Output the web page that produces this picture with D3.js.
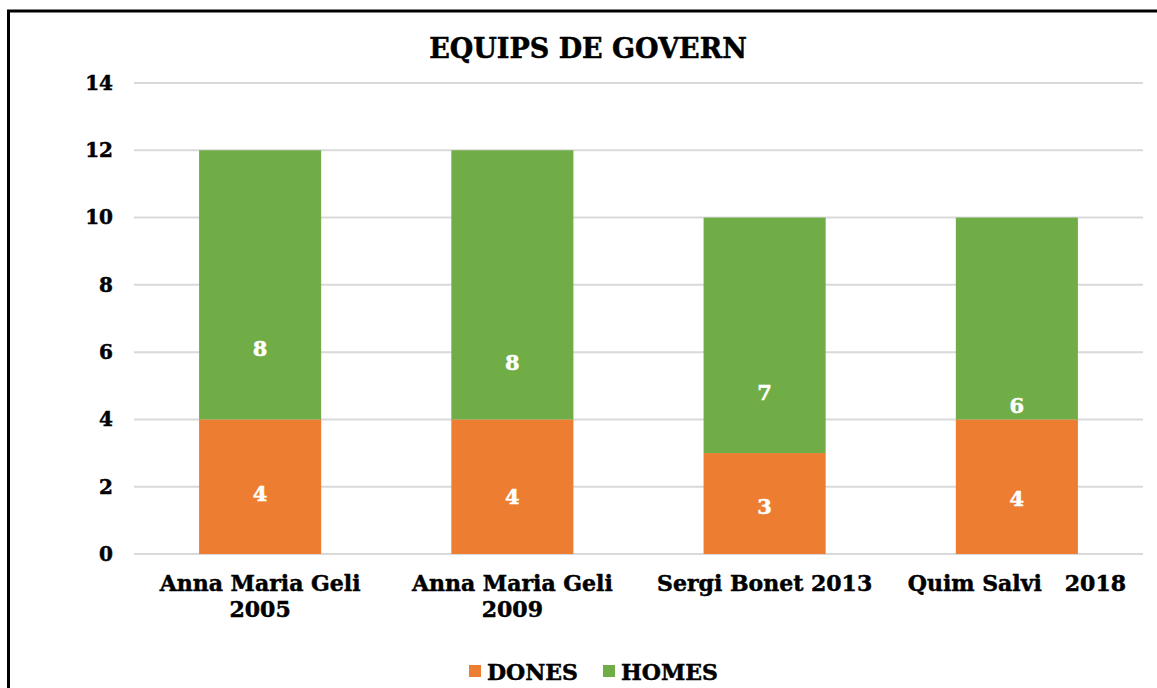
<!DOCTYPE html>
<html>
<head>
<meta charset="utf-8">
<script src="https://cdn.jsdelivr.net/npm/d3@7"></script>
<style>
  html, body { margin: 0; padding: 0; background: #fff; }
  svg { display: block; }
  text { font-family: "DejaVu Serif", serif; font-weight: bold; }
</style>
</head>
<body>
<div id="chart"></div>
<script>
"use strict";

// chart data
var categories = [["Anna Maria Geli", "2005"], ["Anna Maria Geli", "2009"], ["Sergi Bonet 2013"], ["Quim Salvi   2018"]];
var dones = [4, 4, 3, 4];
var homes = [8, 8, 7, 6];
var yTicks = [0, 2, 4, 6, 8, 10, 12, 14];
// where the data labels sit, in axis units (placed by hand in the original)
var donesLabelAt = [1.8, 1.7, 1.4, 1.65];
var homesLabelAt = [6.1, 5.7, 4.8, 4.4];

var width = 1157, height = 688;
var colors = {DONES: "#ed7d31", HOMES: "#70ad47"};

var svg = d3.select("#chart").append("svg")
  .attr("width", width)
  .attr("height", height);

// frame (runs off the right and bottom edge)
svg.append("rect")
  .attr("x", 8.5).attr("y", 11)
  .attr("width", 1170).attr("height", 700)
  .attr("fill", "none")
  .attr("stroke", "#000")
  .attr("stroke-width", 3);

svg.append("text")
  .attr("x", 588).attr("y", 58)
  .attr("text-anchor", "middle")
  .attr("font-size", 27)
  .attr("stroke", "#000").attr("stroke-width", 0.5)
  .text("EQUIPS DE GOVERN");

var x = d3.scaleBand()
  .domain(d3.range(categories.length))
  .range([134, 1143])
  .paddingInner(0.516)
  .paddingOuter(0.258);

var y = d3.scaleLinear().domain([0, 14]).range([554, 83]);

// gridlines
svg.append("g")
  .selectAll("line")
  .data(yTicks)
  .enter().append("line")
  .attr("x1", 134).attr("x2", 1143)
  .attr("y1", d => y(d)).attr("y2", d => y(d))
  .attr("stroke", "#d9d9d9")
  .attr("stroke-width", 2);

// y labels
var yAxis = svg.append("g")
  .attr("transform", "translate(113,0)")
  .call(d3.axisLeft(y).tickValues(yTicks).tickSize(0).tickPadding(0));
yAxis.select(".domain").remove();
yAxis.selectAll("text")
  .attr("font-size", 20)
  .attr("font-family", "DejaVu Serif, serif")
  .attr("font-weight", "bold")
  .attr("stroke", "#000").attr("stroke-width", 0.5)
  .attr("fill", "#000");

var stackData = categories.map((c, i) => ({i: i, DONES: dones[i], HOMES: homes[i]}));
var series = d3.stack().keys(["DONES", "HOMES"])(stackData);

svg.append("g")
  .selectAll("g")
  .data(series)
  .enter().append("g")
  .attr("fill", d => colors[d.key])
  .selectAll("rect")
  .data(d => d)
  .enter().append("rect")
  .attr("x", d => x(d.data.i))
  .attr("width", x.bandwidth())
  .attr("y", d => y(d[1]))
  .attr("height", d => y(d[0]) - y(d[1]));

// data labels
function labels(values, at) {
  svg.append("g")
    .selectAll("text")
    .data(values)
    .enter().append("text")
    .attr("x", (d, i) => x(i) + x.bandwidth() / 2)
    .attr("y", (d, i) => y(at[i]))
    .attr("dy", "0.35em")
    .attr("text-anchor", "middle")
    .attr("font-size", 21)
    .attr("fill", "#fff")
    .attr("stroke", "#fff").attr("stroke-width", 0.5)
    .text(d => d);
}
labels(dones, donesLabelAt);
labels(homes, homesLabelAt);

// category labels
var cat = svg.append("g")
  .selectAll("text")
  .data(categories)
  .enter().append("text")
  .attr("x", (d, i) => x(i) + x.bandwidth() / 2)
  .attr("y", 591)
  .attr("text-anchor", "middle")
  .attr("font-size", 22)
  .attr("stroke", "#000").attr("stroke-width", 0.5)
  .attr("xml:space", "preserve");
cat.selectAll("tspan")
  .data(d => d)
  .enter().append("tspan")
  .attr("x", function() { return this.parentNode.getAttribute("x"); })
  .attr("dy", (d, j) => j ? 26 : 0)
  .text(d => d);

// legend
var legendKeys = ["DONES", "HOMES"];
var legendX = [469, 603];
var legend = svg.append("g")
  .selectAll("g")
  .data(legendKeys)
  .enter().append("g")
  .attr("transform", (d, i) => "translate(" + legendX[i] + ",0)");
legend.append("rect")
  .attr("y", 665).attr("width", 12).attr("height", 12)
  .attr("fill", d => colors[d]);
legend.append("text")
  .attr("x", 18).attr("y", 680)
  .attr("font-size", 22)
  .attr("stroke", "#000").attr("stroke-width", 0.5)
  .text(d => d);
</script>
</body>
</html>
